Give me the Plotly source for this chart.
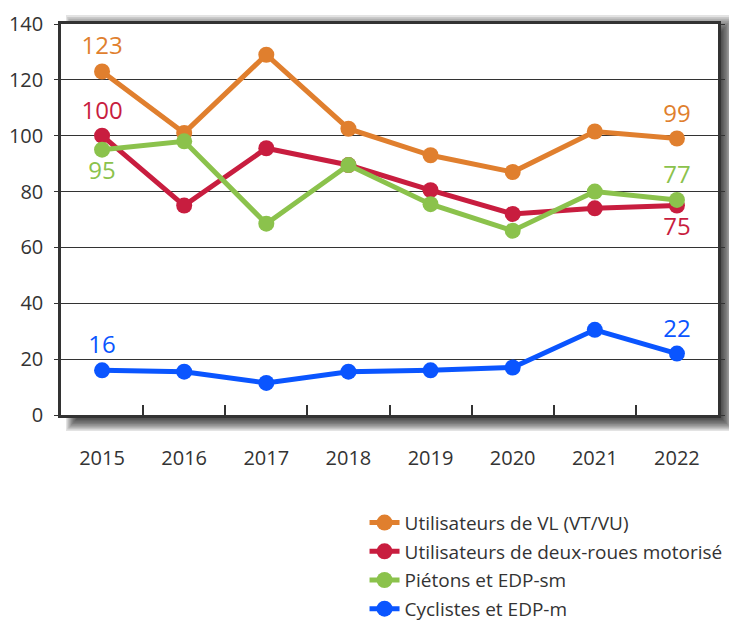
import plotly.graph_objects as go

years = ["2015", "2016", "2017", "2018", "2019", "2020", "2021", "2022"]
series_names = [
    "Utilisateurs de VL (VT/VU)",
    "Utilisateurs de deux-roues motorisé",
    "Piétons et EDP-sm",
    "Cyclistes et EDP-m",
]
vl = [123, 101, 129, 102.5, 93, 87, 101.5, 99]
drm = [100, 75, 95.5, 89.5, 80.5, 72, 74, 75]
pietons = [95, 98, 68.5, 89.5, 75.5, 66, 80, 77]
cyclistes = [16, 15.5, 11.5, 15.5, 16, 17, 30.5, 22]

colors = ["#E07F2E", "#C81D3F", "#8BC24C", "#0A55FF"]
# which end labels go above (True) or below (False): (first, last)
label_above = [(True, True), (True, False), (False, True), (True, True)]

FONT = "Open Sans"
TXT = "#333333"

fig = go.Figure()
for i, (name, vals, col, (a0, a1)) in enumerate(zip(series_names, [vl, drm, pietons, cyclistes], colors, label_above)):
    n = len(vals)
    text = [""] * n
    text[0] = f"{vals[0]:.0f}"
    text[-1] = f"{vals[-1]:.0f}"
    pos = ["top center"] * n
    pos[0] = "top center" if a0 else "bottom center"
    pos[-1] = "top center" if a1 else "bottom center"
    fig.add_trace(go.Scatter(
        x=years, y=vals, name=name, mode="lines+markers+text",
        line=dict(color=col, width=5),
        marker=dict(color=col, size=16),
        text=text, textposition=pos,
        textfont=dict(family=FONT, size=24, color=col),
        cliponaxis=False, legendgroup=f"g{i}",
    ))

# drop shadow + white plot background (paper shapes)
L, R, T, B = 61.0, 718.0, 24.0, 415.0
W, H = R - L, B - T
px = lambda v: (v - L) / W
py = lambda v: (B - v) / H
shapes = []
N = 14
for k in range(N):
    t = k / (N - 1)
    shapes.append(dict(
        type="rect", xref="paper", yref="paper", layer="below",
        x0=px(82 - 16 * t), x1=px(716 + 18 * t),
        y0=py(413 + 18 * t), y1=py(40 - 25 * t),
        fillcolor="rgba(0,0,0,0.11)", line=dict(width=0),
    ))
shapes.append(dict(type="rect", xref="paper", yref="paper", layer="below",
                   x0=0, x1=1, y0=0, y1=1, fillcolor="white", line=dict(width=0)))

fig.update_layout(
    width=729, height=621,
    margin=dict(l=61, r=11, t=24, b=206, autoexpand=False),
    paper_bgcolor="white", plot_bgcolor="rgba(0,0,0,0)",
    font=dict(family=FONT, color=TXT),
    shapes=shapes,
    showlegend=True,
    legend=dict(
        x=0.462, y=-0.227, xanchor="left", yanchor="top",
        font=dict(family=FONT, size=19, color=TXT),
        tracegroupgap=1, itemsizing="trace",
        bgcolor="rgba(0,0,0,0)",
    ),
    xaxis=dict(
        type="category", range=[-0.5, 7.5], automargin=False,
        showline=True, linecolor="#333333", linewidth=2.5, mirror=True,
        ticks="inside", tickson="boundaries", ticklen=10, tickcolor="#333333", tickwidth=1.5,
        showgrid=False, ticklabelstandoff=23,
        tickfont=dict(family=FONT, size=20, color=TXT),
    ),
    yaxis=dict(
        range=[0, 140], dtick=20, tick0=0, automargin=False,
        showline=True, linecolor="#333333", linewidth=2.5, mirror="ticks",
        ticks="outside", ticklen=4, tickcolor="#333333",
        showgrid=True, gridcolor="#333333", gridwidth=1,
        zeroline=False, ticklabelstandoff=7,
        tickfont=dict(family=FONT, size=20, color=TXT),
    ),
)

fig.write_html("out.html", config={"displayModeBar": False},
               post_script="document.body.style.margin='0';")
